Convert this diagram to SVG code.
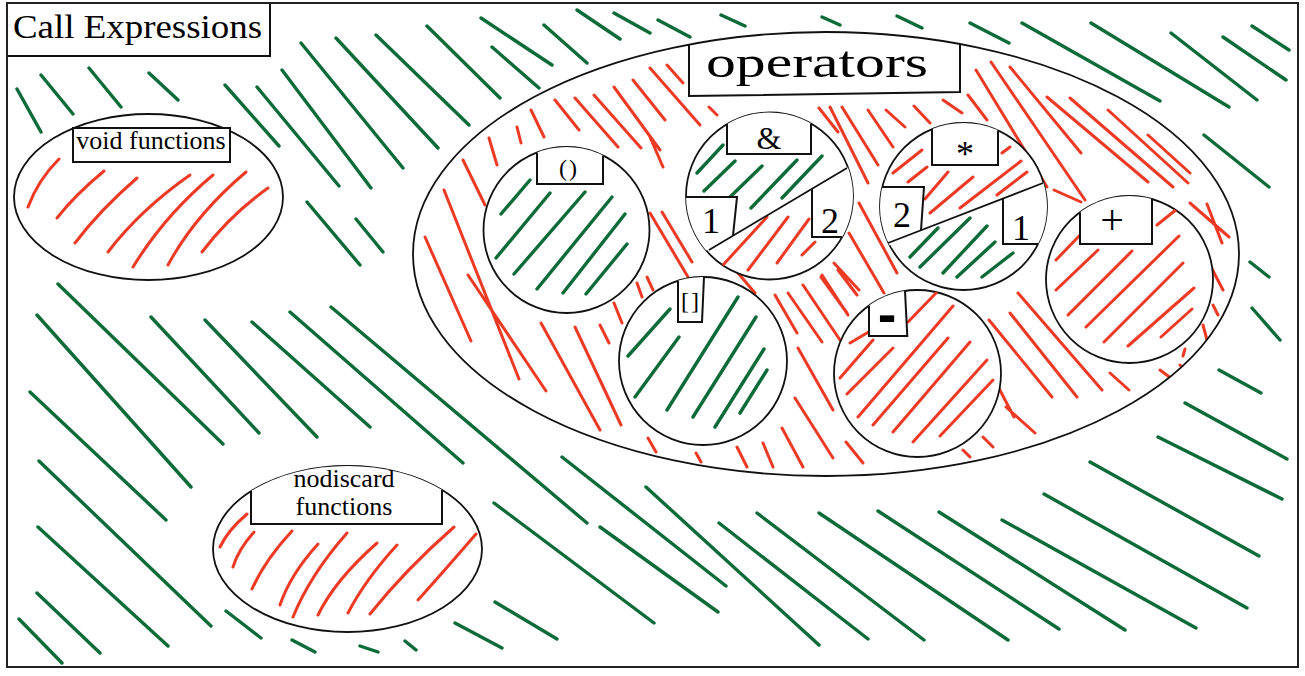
<svg xmlns="http://www.w3.org/2000/svg" width="1305" height="676" viewBox="0 0 1305 676">
<style>
.g{stroke:#0c6b38;stroke-width:3.4;fill:none;stroke-linecap:round}
.r{stroke:#ec3a25;stroke-width:3;fill:none;stroke-linecap:round}
.ol{fill:#fff;stroke:#111;stroke-width:1.8}
.ln{fill:none;stroke:#111;stroke-width:1.8}
.bx{fill:#fff;stroke:none}
.bs{fill:none;stroke:#111;stroke-width:2}
.t{font-family:"Liberation Serif","Times New Roman",serif;fill:#000}
</style>
<defs>
<clipPath id="cOps"><ellipse cx="826" cy="254" rx="413" ry="222"/></clipPath>
<clipPath id="cCall"><circle cx="566.5" cy="230" r="83"/></clipPath>
<clipPath id="cAmp"><circle cx="769.5" cy="196" r="83.5"/></clipPath>
<clipPath id="cStar"><circle cx="963.5" cy="206.5" r="83.5"/></clipPath>
<clipPath id="cSub"><circle cx="703" cy="361" r="84"/></clipPath>
<clipPath id="cMin"><circle cx="917.5" cy="373.5" r="83.5"/></clipPath>
<clipPath id="cPlus"><circle cx="1129.5" cy="279.5" r="83.5"/></clipPath>
<clipPath id="cNod"><ellipse cx="347.5" cy="549" rx="134.5" ry="83"/></clipPath>
</defs>
<rect x="0" y="0" width="1305" height="676" fill="#fff"/>
<g id="background-hatch">
<path class="g" d="M17 89 L41 132 M41 75 L73 114 M89 68 L121 107 M149 73 L178 100 M225 85 L279 146 M257 87 L339 186 M282 70 L371 188 M301 43 L403 168 M336 38 L438 148 M376 35 L469 125 M427 26 L500 98 M481 18 L552 65 M492 47 L539 88 M544 25 L587 63 M577 10 L620 39 M614 13 L650 33 M658 20 L690 37 M721 15 L745 26 M822 17 L840 25 M897 16 L922 28 M970 23 L1009 43 M1022 23 L1160 101 M1091 23 L1229 107 M1171 33 L1257 100 M1223 37 L1286 80 M1252 26 L1289 50 M1204 135 L1269 187 M1250 262 L1269 277 M1252 308 L1280 340 M1219 370 L1261 393 M1185 403 L1287 459 M1158 437 L1282 499 M1090 462 L1259 556 M1044 494 L1247 608 M1002 520 L1196 628 M939 512 L1125 630 M878 511 L1059 629 M819 513 L1008 640 M757 513 L924 640 M719 523 L868 639 M646 487 L819 645 M600 527 L718 612 M562 457 L726 586 M494 503 L654 623 M495 602 L557 639 M455 623 L502 648 M405 641 L416 650 M360 646 L378 652 M292 640 L315 652 M226 611 L261 638 M19 619 L62 663 M37 593 L100 653 M38 527 L168 646 M39 461 L211 626 M30 392 L166 520 M58 284 L223 444 M37 315 L191 487 M151 317 L259 433 M205 320 L317 437 M252 322 L370 427 M290 312 L463 463 M331 307 L587 523 M307 202 L360 265 M356 219 L383 252"/>
</g>
<g id="title">
<rect x="7" y="3" width="263" height="53" fill="#fff" stroke="#111" stroke-width="2"/>
<text class="t" x="13" y="38" font-size="33" textLength="249" lengthAdjust="spacingAndGlyphs">Call Expressions</text>
</g>
<g id="void-functions">
<ellipse class="ol" cx="148.5" cy="197" rx="134.5" ry="83"/>
<path class="r" d="M59 159 Q38 180 28 207 M104 171 Q75 195 57 218 M137 178 Q100 210 75 243 M190 175 Q140 210 108 252 M213 175 Q165 215 133 267 M246 172 Q195 215 168 265 M268 188 Q230 215 202 252"/>
<rect x="73" y="128" width="157" height="34" fill="#fff" stroke="#111" stroke-width="2"/>
<text class="t" x="151" y="149" font-size="26" text-anchor="middle">void functions</text>
</g>
<g id="nodiscard-functions">
<ellipse class="ol" cx="347.5" cy="549" rx="134.5" ry="83"/>
<path class="r" d="M247 514 Q228 530 220 547 M254 532 Q238 550 233 567 M292 531 Q265 560 252 589 M318 544 Q290 575 280 605 M347 533 Q310 575 293 617 M377 543 Q335 580 318 615 M397 545 Q365 580 348 613 M454 527 Q405 570 370 614 M476 534 Q445 570 418 600"/>
<path class="bx" clip-path="url(#cNod)" d="M251 460 L442 460 L442 524 L251 524 Z"/>
<path class="bs" d="M251 491 L251 524 L442 524 L442 490"/>
<text class="t" x="344" y="487" font-size="26" text-anchor="middle">nodiscard</text>
<text class="t" x="344" y="515" font-size="26" text-anchor="middle">functions</text>
</g>
<g id="operators">
<ellipse cx="826" cy="254" rx="413" ry="222" fill="#fff"/>
<path class="r" clip-path="url(#cOps)" d="M463 160 L485 205 M489 138 L497 165 M517 127 L521 143 M531 110 L544 137 M555 100 L579 130 M575 98 L618 147 M594 95 L641 148 M614 87 L660 150 M633 80 L665 120 M425 237 L471 341 M444 190 L519 379 M468 275 L546 391 M541 323 L600 430 M575 327 L621 425 M600 325 L609 343 M614 303 L622 323 M637 283 L642 297 M647 277 L653 290 M600 380 L620 423 M650 68 L700 125 M667 65 L683 83 M709 107 L717 115 M650 137 L663 167 M650 213 L688 277 M662 212 L692 262 M819 108 L838 132 M830 107 L868 183 M842 107 L878 165 M868 110 L893 147 M886 110 L905 127 M914 106 L930 123 M943 100 L962 113 M968 95 L987 120 M859 203 L897 273 M849 233 L884 293 M834 263 L859 290 M821 277 L847 313 M738 273 L755 293 M775 295 L797 333 M788 293 L822 342 M803 285 L840 340 M822 275 L848 315 M838 270 L857 295 M798 348 L833 410 M795 398 L833 458 M782 428 L803 467 M763 443 L773 467 M737 447 L747 467 M648 438 L656 452 M696 453 L701 462 M846 442 L863 463 M976 70 L1047 187 M991 62 L1085 200 M1010 67 L1081 153 M1047 97 L1148 182 M1070 98 L1173 187 M1108 110 L1188 183 M1148 135 L1190 173 M1054 190 L1081 202 M1190 203 L1229 237 M1207 204 L1222 243 M1211 267 L1223 290 M1213 305 L1218 315 M1203 325 L1207 340 M1185 349 L1183 356 M1180 365 L1190 375 M1160 370 L1180 385 M1018 293 L1102 390 M1010 313 L1077 397 M989 320 L1052 397 M993 377 L1014 417 M1110 373 L1129 390 M1006 407 L1035 433 M983 437 L993 447 M963 450 L970 457"/>
<path class="bx" clip-path="url(#cOps)" d="M689 30 L960 30 L960 92 L689 96 Z"/>
<ellipse class="ln" cx="826" cy="254" rx="413" ry="222"/>
<path class="bs" d="M689 44.6 L689 96 L960 92 L960 44"/>
<text class="t" x="817" y="77" font-size="45" text-anchor="middle" textLength="222" lengthAdjust="spacingAndGlyphs">operators</text>
</g>
<g id="op-call">
<circle class="ol" cx="566.5" cy="230" r="83"/>
<path class="g" clip-path="url(#cCall)" d="M530 180 L501 214 M550 193 L496 258 M585 192 L514 274 M612 197 L537 289 M625 214 L563 293 M627 244 L586 294"/>
<path class="bx" clip-path="url(#cCall)" d="M537 140 L603 140 L603 184 L537 184 Z"/>
<path class="bs" d="M537 152.4 L537 184 L603 184 L603 155.5"/>
<text class="t" x="569" y="176" font-size="24" text-anchor="middle" letter-spacing="2">()</text>
</g>
<g id="op-address">
<circle class="ol" cx="769.5" cy="196" r="83.5"/>
<path class="g" clip-path="url(#cAmp)" d="M723 145 L697 173 M735 161 L704 191 M762 166 L730 197 M797 160 L751 208 M822 156 L782 198"/>
<path class="r" clip-path="url(#cAmp)" d="M767 217 L723 265 M788 217 L748 270 M809 219 L777 263 M815 242 L802 255"/>
<path class="bx" clip-path="url(#cAmp)" d="M727 110 L811 110 L811 154 L727 154 Z M680 197 L737 197 L733 235.7 L680 265 Z M812 188.8 L860 160 L860 237 L812 237 Z"/>
<line class="ln" x1="709" y1="250" x2="847" y2="168"/>
<path class="bs" d="M727 124 L727 154 L811 154 L811 123.5 M686 197 L737 197 L733 235.7 M812 188.8 L812 237 L842.2 237"/>
<text class="t" x="769" y="149" font-size="32" text-anchor="middle">&amp;</text>
<text class="t" x="711" y="233" font-size="36" text-anchor="middle">1</text>
<text class="t" x="830" y="233" font-size="36" text-anchor="middle">2</text>
</g>
<g id="op-deref">
<circle class="ol" cx="963.5" cy="206.5" r="83.5"/>
<path class="r" clip-path="url(#cStar)" d="M922 150 L893 173 M927 167 L908 182 M948 172 L925 199 M973 177 L930 213 M1021 161 L960 208 M1027 172 L997 195 M1010 147 L1002 153"/>
<path class="g" clip-path="url(#cStar)" d="M938 228 L910 257 M970 218 L920 267 M987 226 L943 273 M995 242 L957 277 M1013 253 L982 277"/>
<path class="bx" clip-path="url(#cStar)" d="M932 115 L998 115 L998 165 L932 165 Z M870 187 L924 187 L921 230.2 L870 255 Z M1003 198.5 L1060 176 L1060 244 L1003 244 Z"/>
<line class="ln" x1="888" y1="243" x2="1043" y2="183"/>
<path class="bs" d="M932 129 L932 165 L998 165 L998 130.5 M882 187 L924 187 L921 230.2 M1003 198.5 L1003 244 L1038 244"/>
<text class="t" x="965" y="166" font-size="36" text-anchor="middle">*</text>
<text class="t" x="902" y="227" font-size="36" text-anchor="middle">2</text>
<text class="t" x="1021" y="240" font-size="36" text-anchor="middle">1</text>
</g>
<g id="op-subscript">
<circle class="ol" cx="703" cy="361" r="84"/>
<path class="g" clip-path="url(#cSub)" d="M670 309 L628 356 M679 337 L635 397 M738 297 L667 410 M756 317 L693 417 M764 349 L715 427 M767 370 L740 413"/>
<path class="bx" clip-path="url(#cSub)" d="M678 270 L704 270 L702 322 L678 322 Z"/>
<path class="bs" d="M678 280.8 L678 322 L702 322 L704 277"/>
<text class="t" x="691" y="309" font-size="24" text-anchor="middle" letter-spacing="2">[]</text>
</g>
<g id="op-minus">
<circle class="ol" cx="917.5" cy="373.5" r="83.5"/>
<path class="r" clip-path="url(#cMin)" d="M937 292 L908 322 M877 327 L850 343 M873 340 L840 378 M893 348 L847 394 M953 306 L858 417 M948 338 L873 425 M970 342 L893 432 M987 360 L913 442 M993 380 L940 436"/>
<path class="bx" clip-path="url(#cMin)" d="M869 280 L905 280 L907.3 336 L869 336 Z"/>
<path class="bs" d="M869 305.5 L869 336 L907.3 336 L905 290.9"/>
<text x="887" y="333" font-size="56" font-weight="bold" font-family="'Liberation Sans', Arial, sans-serif" text-anchor="middle">-</text>
</g>
<g id="op-plus">
<circle class="ol" cx="1129.5" cy="279.5" r="83.5"/>
<path class="r" clip-path="url(#cPlus)" d="M1082 233 L1056 260 M1098 250 L1056 290 M1132 251 L1068 315 M1179 236 L1086 327 M1183 263 L1104 342 M1194 288 L1128 346 M1192 309 L1161 337 M1177 209 L1157 225"/>
<path class="bx" clip-path="url(#cPlus)" d="M1080 190 L1152 190 L1152 244 L1080 244 Z"/>
<path class="bs" d="M1080 212.3 L1080 244 L1152 244 L1152 199.1"/>
<text class="t" x="1112" y="234" font-size="42" text-anchor="middle">+</text>
</g>
<g id="connectors"/>
<rect x="7" y="3" width="1291" height="664" fill="none" stroke="#222" stroke-width="2"/>
</svg>
